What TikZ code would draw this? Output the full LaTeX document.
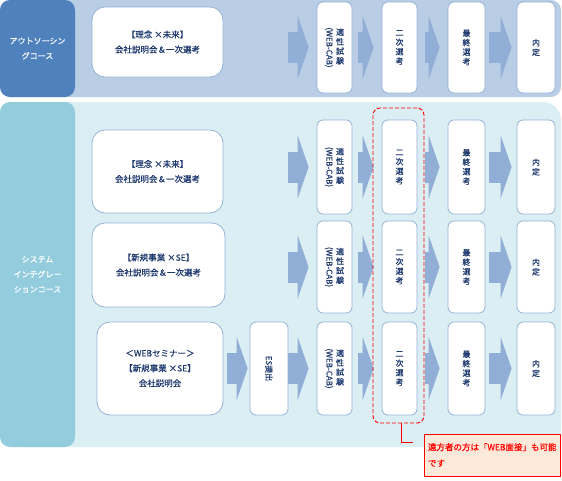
\documentclass[tikz,border=0pt]{standalone}
\usepackage{fontspec}
\setmainfont{Noto Sans CJK JP}[FakeBold=0.6]
\usepackage{graphicx}
\usetikzlibrary{arrows.meta}
\definecolor{topband}{HTML}{B9CDE5}
\definecolor{topcourse}{HTML}{4F81BD}
\definecolor{siband}{HTML}{DBEEF3}
\definecolor{sicourse}{HTML}{93CDDD}
\definecolor{boxline}{HTML}{95B3D7}
\definecolor{arrowblue}{HTML}{90AED6}
\definecolor{navy}{HTML}{1F3A6E}
\definecolor{notefill}{HTML}{FDE9D9}
\newcommand{\tatecol}[1]{$\vcenter{\hbox{\begin{tabular}{@{}c@{}}#1\end{tabular}}}$}

\begin{document}
\begin{tikzpicture}[x=1pt,y=-1pt]
\tikzset{coursebox/.style={rounded corners=10pt,minimum width=75pt,inner sep=0pt,text=white,align=center,font=\fontsize{8}{15}\selectfont}}
\tikzset{eventbox/.style={draw=boxline,line width=0.8pt,fill=white,rounded corners=13pt,inner sep=0pt,text=navy,align=center,font=\fontsize{8.5}{15}\selectfont}}
\tikzset{stepbox/.style={draw=boxline,line width=0.8pt,fill=white,rounded corners=6pt,inner sep=0pt,text=navy,align=center,font=\fontsize{8}{9.5}\selectfont}}
\tikzset{blockarrow/.style={arrowblue,line width=31pt,-{Triangle[length=11pt,width=63pt]}}}
\tikzset{hilite/.style={draw=red,line width=0.9pt,dash pattern=on 4pt off 2pt,rounded corners=7pt,inner sep=0pt}}
\tikzset{callout/.style={draw=red,line width=0.9pt,fill=notefill,text=red,text width=128pt,inner xsep=4pt,minimum height=42pt,align=left,font=\fontsize{8.5}{16}\selectfont}}
\useasboundingbox (0,0) rectangle (562,480);
% bands
\fill[topband,rounded corners=10pt] (0,0) rectangle (561,97);
\fill[siband,rounded corners=18pt] (0,102) rectangle (561,447);
\node[coursebox,fill=topcourse,minimum height=97pt] (out) at (37.5,48.5) {アウトソーシン\\グコース};
\node[coursebox,fill=sicourse,minimum height=345pt] (si) at (37.5,274.5) {システム\\インテグレー\\ションコース};
% first events
\node[eventbox,minimum width=131pt,minimum height=70pt] (e0) at (157.5,42) {【理念 ×未来】\\会社説明会＆一次選考};
\node[eventbox,minimum width=131pt,minimum height=83pt] (e1) at (157.5,171.5) {【理念 ×未来】\\会社説明会＆一次選考};
\node[eventbox,minimum width=133pt,minimum height=84pt] (e2) at (158.5,265) {【新規事業 ×SE】\\会社説明会＆一次選考};
\node[eventbox,minimum width=126pt,minimum height=93pt] (e3) at (160,368.5) {＜WEBセミナー＞\\【新規事業 ×SE】\\会社説明会};
\node[stepbox,minimum width=38pt,minimum height=93pt] (es) at (269,368.5) {\rotatebox{-90}{ES提出}};
\draw[blockarrow] ([xshift=4pt]e3.east) -- ([xshift=-2pt]es.west);
% steps
\foreach \r/\y/\h in {0/47.5/91pt,1/167/94pt,2/267/92pt,3/368.5/93pt}{
  \node[stepbox,minimum width=35pt,minimum height=\h] (w\r) at (334.5,\y) {$\vcenter{\hbox{\rotatebox{-90}{(WEB-CAB)}}}$\hspace{3pt}\tatecol{適\\性\\試\\験}};
  \node[stepbox,minimum width=35pt,minimum height=\h] (n\r) at (399.5,\y) {二\\次\\選\\考};
  \node[stepbox,minimum width=37pt,minimum height=\h] (f\r) at (466.5,\y) {最\\終\\選\\考};
  \node[stepbox,minimum width=38pt,minimum height=\h] (k\r) at (536,\y) {内\\定};
  \draw[blockarrow] ([xshift=-29pt]w\r.west) -- ([xshift=-8pt]w\r.west);
  \draw[blockarrow] ([xshift=6pt]w\r.east) -- ([xshift=-8pt]n\r.west);
  \draw[blockarrow] ([xshift=8pt]n\r.east) -- ([xshift=-8pt]f\r.west);
  \draw[blockarrow] ([xshift=4pt]f\r.east) -- ([xshift=-5pt]k\r.west);
}
% note
\node[hilite,minimum width=51pt,minimum height=315pt] (hl) at (398.5,265.5) {};
\node[callout] (note) at (492,455) {遠方者の方は「WEB面接」も可能\\です};
\coordinate (tail) at (413,442);
\draw[red,line width=0.9pt] ([xshift=3pt]hl.south) |- (tail);
\end{tikzpicture}
\end{document}
